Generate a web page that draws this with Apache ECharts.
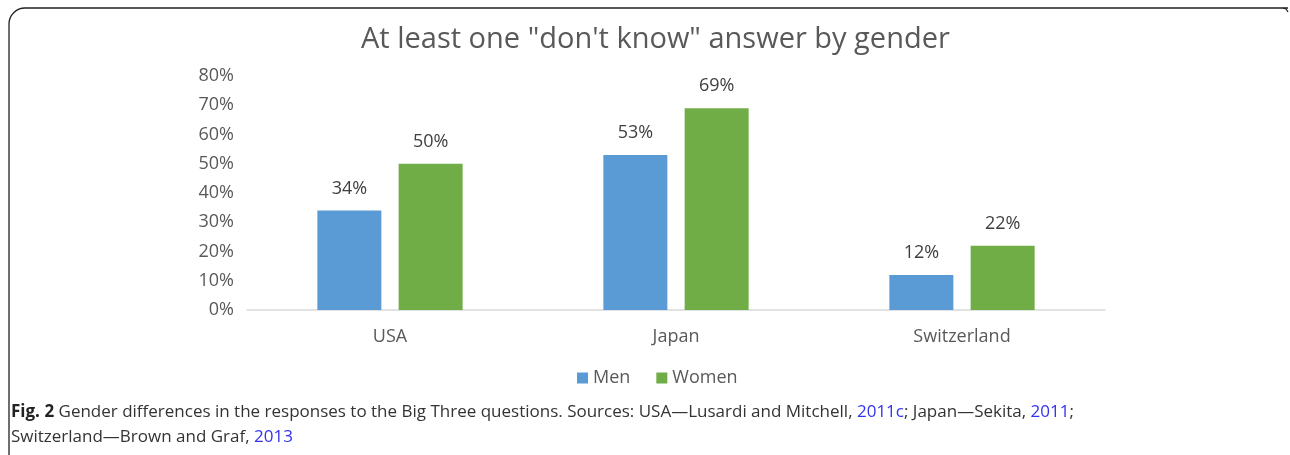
<!DOCTYPE html>
<html>
<head>
<meta charset="utf-8">
<script src="https://cdn.jsdelivr.net/npm/echarts@6/dist/echarts.min.js"></script>
<style>html,body{margin:0;padding:0;background:#fff;}#c{width:1290px;height:455px;}</style>
</head>
<body>
<div id="c"></div>
<script>
const categories = ['USA', 'Japan', 'Switzerland'];
const menValues = [34, 53, 12];
const womenValues = [50, 69, 22];
const yTicks = [0, 10, 20, 30, 40, 50, 60, 70, 80];
const seriesNames = ['Men', 'Women'];

const FONT = '"Open Sans", sans-serif';
const chart = echarts.init(document.getElementById('c'));
chart.setOption({
  animation: false,
  title: {
    text: 'At least one "don\'t know" answer by gender',
    left: 356, top: 20,
    textStyle: { fontFamily: FONT, fontSize: 29, fontWeight: 'normal', color: '#595959' }
  },
  legend: {
    data: seriesNames,
    left: 572, top: 364,
    itemWidth: 11, itemHeight: 11, itemGap: 26,
    icon: 'rect',
    textStyle: { fontFamily: FONT, fontSize: 18, color: '#595959' }
  },
  grid: { left: 247, right: 185, top: 76, bottom: 145 },
  xAxis: {
    type: 'category', data: categories,
    axisLine: { lineStyle: { color: '#d9d9d9', width: 1.5 } },
    axisTick: { show: false },
    axisLabel: { fontFamily: FONT, fontSize: 18, color: '#595959', margin: 18 }
  },
  yAxis: {
    type: 'value', min: yTicks[0], max: yTicks[yTicks.length - 1], interval: 10,
    splitLine: { show: false },
    axisLine: { show: false }, axisTick: { show: false },
    axisLabel: { fontFamily: FONT, fontSize: 18, color: '#595959', margin: 13, formatter: v => v + '%' }
  },
  series: [
    { name: seriesNames[0], type: 'bar', data: menValues, barWidth: 64, barGap: '27%',
      itemStyle: { color: '#5B9BD5' },
      label: { show: true, position: 'top', distance: 13, formatter: p => p.value + '%',
        fontFamily: FONT, fontSize: 18, color: '#404040' } },
    { name: seriesNames[1], type: 'bar', data: womenValues, barWidth: 64,
      itemStyle: { color: '#70AD47' },
      label: { show: true, position: 'top', distance: 13, formatter: p => p.value + '%',
        fontFamily: FONT, fontSize: 18, color: '#404040' } }
  ],
  graphic: [
    { type: 'rect', silent: true,
      shape: { x: 9, y: 8, width: 1400, height: 600, r: [16, 0, 0, 0] },
      style: { fill: 'none', stroke: '#222', lineWidth: 1.3 } },
    { type: 'rect', silent: true,
      shape: { x: 1288, y: 0, width: 10, height: 470 },
      style: { fill: '#fff', stroke: null } },
    { type: 'polyline', silent: true,
      shape: { points: [[1283, 8], [1286, 9], [1288, 12]] },
      style: { fill: 'none', stroke: '#222', lineWidth: 1.3 } },
    { type: 'text', left: 11, top: 404,
      style: {
        text: '{b|Fig. 2} Gender differences in the responses to the Big Three questions. Sources: USA\u2014Lusardi and Mitchell, {l|2011c}; Japan\u2014Sekita, {l|2011};',
        rich: {
          b: { fontFamily: FONT, fontSize: 17, fontWeight: 'bold', fill: '#222' },
          l: { fontFamily: FONT, fontSize: 17, fill: '#3333ee' }
        },
        font: '17px "Open Sans"', fill: '#333'
      } },
    { type: 'text', left: 11, top: 429,
      style: {
        text: 'Switzerland\u2014Brown and Graf, {l|2013}',
        rich: { l: { fontFamily: FONT, fontSize: 17, fill: '#3333ee' } },
        font: '17px "Open Sans"', fill: '#333'
      } }
  ]
});
</script>
</body>
</html>
